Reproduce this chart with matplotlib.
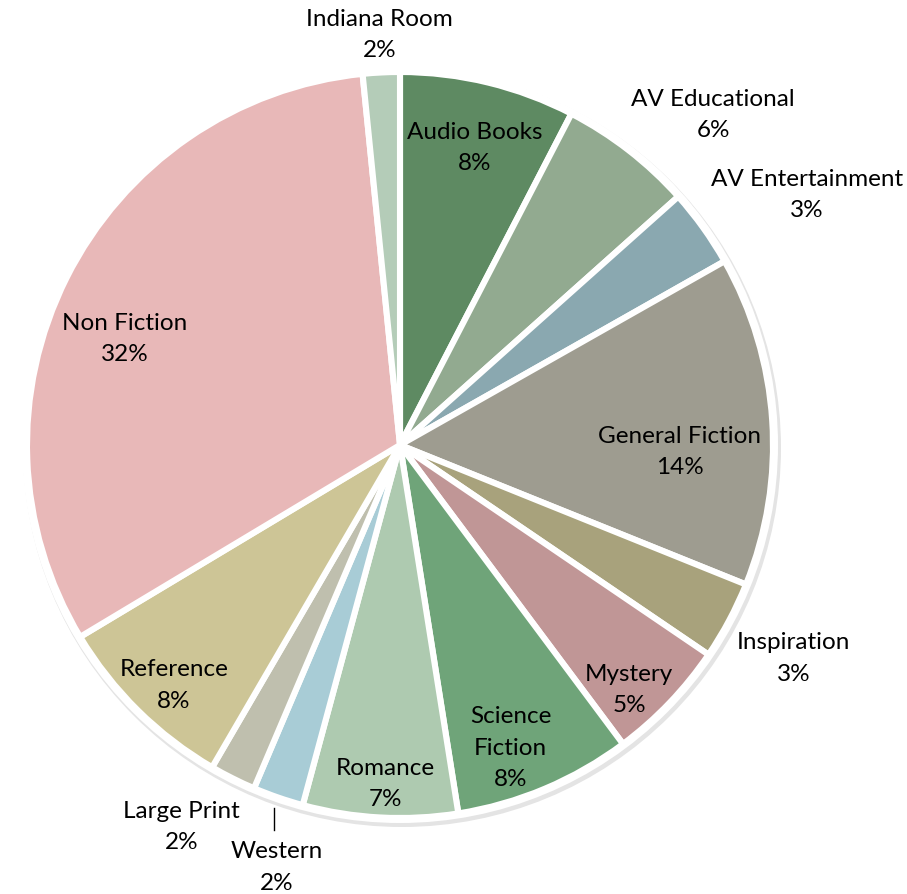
import numpy as np
import matplotlib.pyplot as plt
from matplotlib.patches import Circle

# Dane - udział kategorii w zbiorach
kategorie = ['Audio Books', 'AV Educational', 'AV Entertainment', 'General Fiction',
             'Inspiration', 'Mystery', 'Science\nFiction', 'Romance', 'Western',
             'Large Print', 'Reference', 'Non Fiction', 'Indiana Room']
udzialy = [7.6, 5.8, 3.4, 14.3, 3.4, 5.3, 7.7, 6.7, 2.2, 2.0, 8.0, 32.0, 1.6]
kolory = ['#5e8a62', '#92aa90', '#8aa8b0', '#9e9c90', '#a8a27c', '#c09696', '#6fa479',
          '#aecab0', '#a8ccd6', '#bfbfae', '#cdc596', '#e8b8b8', '#b4ccb8']

# odległość etykiety od środka (w promieniach) i przesunięcie kątowe [stopnie]
odl_etykiet = [0.822, 1.22, 1.28, 0.75, 1.20, 0.90, 0.865, 0.91, 1.18, 1.18, 0.885, 0.79, 1.10]
kat_korekta = [0.5, 5.7, 4.1, 5.2, 0.4, 3.2, 2.8, -0.6, -2.8, 3.1, -1.4, -5.6, 0]

W, H = 907, 894
cx, cy = 400, H - 445
R = 373

fig = plt.figure(figsize=(W / 100, H / 100), dpi=100)
ax = fig.add_axes([0, 0, 1, 1])

# cień i biała obwódka
ax.add_patch(Circle((cx + 2, cy - 3), R + 6, facecolor='#e4e4e4', edgecolor='none', zorder=0))
ax.add_patch(Circle((cx, cy), R + 5, facecolor='white', edgecolor='none', zorder=0.5))

wedges, _ = ax.pie(udzialy, colors=kolory, startangle=90, counterclock=False,
                   center=(cx, cy), radius=R, frame=True,
                   wedgeprops=dict(edgecolor='white', linewidth=4.4))
ax.set_xlim(0, W)
ax.set_ylim(0, H)
ax.set_aspect('equal')
ax.axis('off')

suma = sum(udzialy)
for w, nazwa, v, d, dk in zip(wedges, kategorie, udzialy, odl_etykiet, kat_korekta):
    theta = np.deg2rad((w.theta1 + w.theta2) / 2 - dk)
    x = cx + R * d * np.cos(theta)
    y = cy + R * d * np.sin(theta)
    ax.text(x, y, f'{nazwa}\n{v / suma * 100:.0f}%', ha='center', va='center',
            fontsize=17.5, family='Lato', linespacing=1.6, color='black', zorder=5)

# linia odniesienia dla Western
w = wedges[kategorie.index('Western')]
th = np.deg2rad((w.theta1 + w.theta2) / 2)
x0 = cx + R * 1.03 * np.cos(th)
y0 = cy + R * 1.03 * np.sin(th)
ax.plot([x0, x0], [y0, y0 - 22], color='black', linewidth=1, zorder=5)

fig.savefig('out.png', dpi=100)
